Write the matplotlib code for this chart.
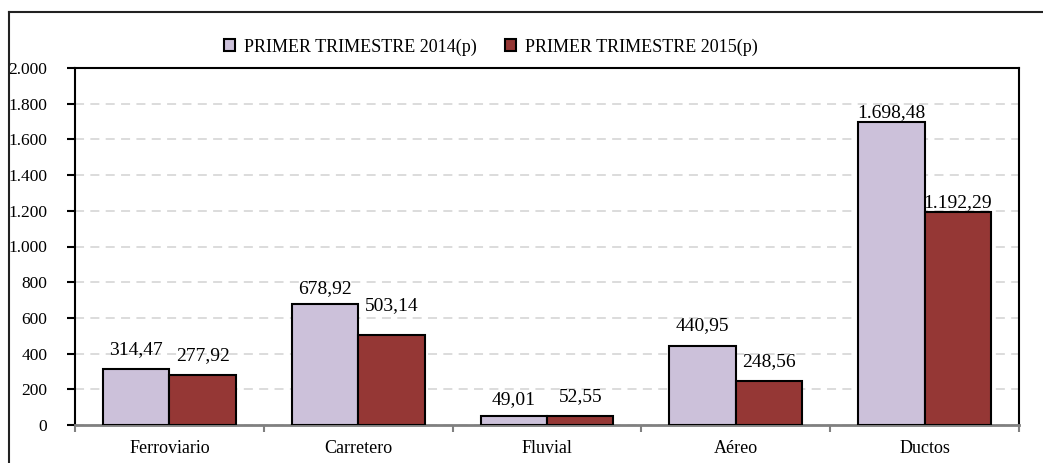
import matplotlib.pyplot as plt
import numpy as np
from matplotlib.lines import Line2D

# Data
categorias = ['Ferroviario', 'Carretero', 'Fluvial', 'Aéreo', 'Ductos']
serie_2014 = [314.47, 678.92, 49.01, 440.95, 1698.48]
serie_2015 = [277.92, 503.14, 52.55, 248.56, 1192.29]
nombres = ['PRIMER TRIMESTRE 2014(p)', 'PRIMER TRIMESTRE 2015(p)']
y_ticks = [0, 200, 400, 600, 800, 1000, 1200, 1400, 1600, 1800, 2000]
y_tick_labels = ['0', '200', '400', '600', '800', '1.000', '1.200', '1.400',
                 '1.600', '1.800', '2.000']

color_2014 = '#CCC1DA'
color_2015 = '#953735'

# label offsets above bar tops (points), Excel placed them unevenly
dy_2014 = [14, 11, 12, 15, 7]
dy_2015 = [14, 21, 14, 14, 7]


def formato(v):
    # 1698.48 -> '1.698,48'
    s = f'{v:,.2f}'
    return s.replace(',', 'X').replace('.', ',').replace('X', '.')


plt.rcParams['font.family'] = ['Liberation Serif', 'DejaVu Serif']

fig = plt.figure(figsize=(10.43, 4.63), dpi=100)
ax = fig.add_axes([75 / 1043, 1 - 425 / 463, (1019 - 75) / 1043, (425 - 68) / 463])

x = np.arange(len(categorias))
w = 0.352
b1 = ax.bar(x - w / 2, serie_2014, w, color=color_2014, edgecolor='black',
            linewidth=1.5, label=nombres[0], zorder=3)
b2 = ax.bar(x + w / 2, serie_2015, w, color=color_2015, edgecolor='black',
            linewidth=1.5, label=nombres[1], zorder=3)

for bars, vals, dys in ((b1, serie_2014, dy_2014), (b2, serie_2015, dy_2015)):
    for r, v, dy in zip(bars, vals, dys):
        ax.annotate(formato(v), (r.get_x() + r.get_width() / 2, v),
                    xytext=(0, dy), textcoords='offset points',
                    ha='center', va='center', fontsize=14, zorder=4)

ax.set_xlim(-0.5, len(categorias) - 0.5)
ax.set_ylim(0, 2000)
ax.set_yticks(y_ticks)
ax.set_yticklabels(y_tick_labels, fontsize=12.5)
ax.set_xticks(x)
ax.set_xticklabels(categorias, fontsize=13)
ax.set_xticks(np.arange(-0.5, len(categorias)), minor=True)
ax.tick_params(axis='x', which='major', length=0, pad=11)
ax.tick_params(axis='x', which='minor', length=5, width=1.5, color='#808080')
ax.tick_params(axis='y', length=6, width=1.5, pad=14, colors='black')

ax.yaxis.grid(True, color='#D9D9D9', linestyle=(0, (5, 3.5)), linewidth=1.3, zorder=0)
ax.set_axisbelow(True)

for side in ('left', 'top', 'right'):
    ax.spines[side].set_linewidth(1.5)
    ax.spines[side].set_color('black')
ax.spines['bottom'].set_color('#808080')
ax.spines['bottom'].set_linewidth(2)

fig.legend(handles=[b1, b2], loc='center', bbox_to_anchor=(491 / 1043, 1 - 47 / 463),
           ncol=2, frameon=False, fontsize=13, handlelength=0.6, handleheight=0.6,
           handletextpad=0.5, columnspacing=1.6)

# chart area frame (cropped at right and bottom)
fig.add_artist(Line2D([9 / 1043, 9 / 1043], [0, 1 - 12 / 463], color='#222222',
                      linewidth=1.5, transform=fig.transFigure))
fig.add_artist(Line2D([9 / 1043, 1], [1 - 12 / 463, 1 - 12 / 463], color='#222222',
                      linewidth=1.5, transform=fig.transFigure))

fig.savefig('out.png', dpi=100)
